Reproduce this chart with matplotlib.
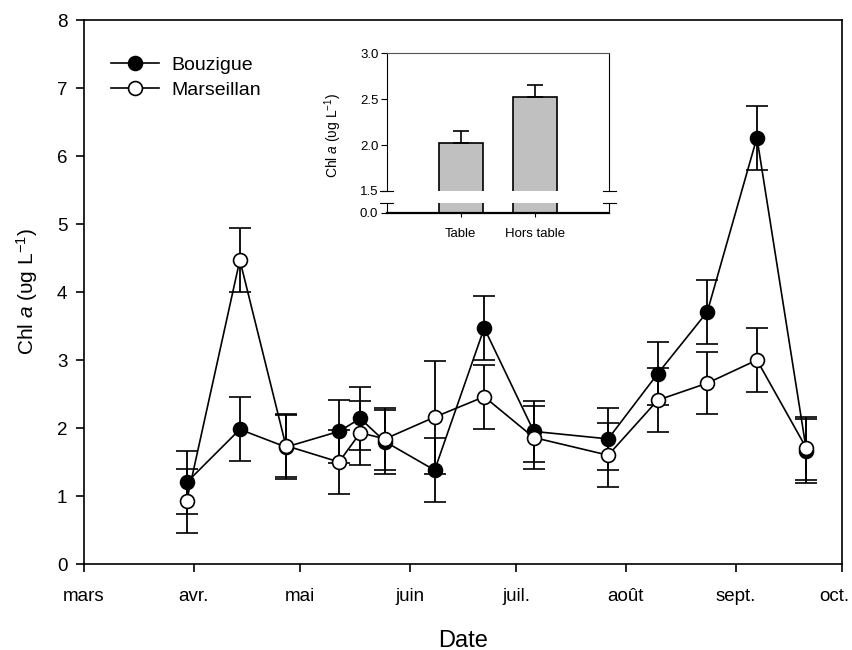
import matplotlib
matplotlib.use("Agg")
import matplotlib.pyplot as plt
import matplotlib.transforms as mtransforms
import pandas as pd

plt.rcParams['font.family'] = ['Liberation Sans', 'DejaVu Sans']
plt.rcParams['mathtext.fontset'] = 'custom'
plt.rcParams['mathtext.rm'] = 'Liberation Sans'
plt.rcParams['mathtext.it'] = 'Liberation Sans:italic'

# dates des prélèvements
dates = ['2013-03-30', '2013-04-14', '2013-04-27', '2013-05-12', '2013-05-18',
         '2013-05-25', '2013-06-08', '2013-06-22', '2013-07-06', '2013-07-27',
         '2013-08-10', '2013-08-24', '2013-09-07', '2013-09-21']

bouzigue = [1.20, 1.98, 1.72, 1.95, 2.14, 1.80, 1.38, 3.47, 1.95, 1.84, 2.80, 3.71, 6.27, 1.66]
bouzigue_err = [0.46, 0.47, 0.47, 0.46, 0.47, 0.47, 0.47, 0.47, 0.45, 0.46, 0.46, 0.47, 0.47, 0.47]
marseillan = [0.93, 4.47, 1.74, 1.50, 1.93, 1.84, 2.16, 2.46, 1.86, 1.60, 2.41, 2.66, 3.00, 1.70]
marseillan_err = [0.47, 0.47, 0.46, 0.47, 0.47, 0.46, 0.83, 0.47, 0.47, 0.47, 0.47, 0.46, 0.47, 0.46]

month_ticks = ['2013-03-01', '2013-04-01', '2013-05-01', '2013-06-01', '2013-07-01',
               '2013-08-01', '2013-09-01', '2013-10-01']
month_labels = ['mars', 'avr.', 'mai', 'juin', 'juil.', 'août', 'sept.', 'oct.']

# encart
bar_labels = ['Table', 'Hors table']
bar_values = [2.02, 2.52]
bar_err = [0.13, 0.13]

x = pd.to_datetime(dates)

fig = plt.figure(figsize=(8.53, 6.5), dpi=100)
ax = fig.add_axes([0.0985, 0.1323, 0.8885, 0.8369])

err_kw = dict(ecolor='black', elinewidth=1.3, capsize=8, capthick=1.3)
ax.errorbar(x, bouzigue, yerr=bouzigue_err, color='black', lw=1.2, marker='o', ms=10,
            mfc='black', mec='black', mew=1.2, label='Bouzigue', zorder=2, **err_kw)
ax.errorbar(x, marseillan, yerr=marseillan_err, color='black', lw=1.2, marker='o', ms=10,
            mfc='white', mec='black', mew=1.2, label='Marseillan', zorder=3, **err_kw)

ax.set_ylim(0, 8)
ax.set_xlim(pd.Timestamp(month_ticks[0]), pd.Timestamp(month_ticks[-1]))
ax.set_xticks(pd.to_datetime(month_ticks))
ax.set_xticklabels(month_labels)
ax.set_yticks(range(0, 9))
ax.tick_params(direction='out', length=6, width=1.2, labelsize=13.5)
ax.tick_params(axis='x', pad=11)
ax.tick_params(axis='y', pad=6)
for s in ax.spines.values():
    s.set_linewidth(1.2)

# décaler "oct." pour qu'il reste dans l'image
last = ax.get_xticklabels()[-1]
last.set_transform(last.get_transform() + mtransforms.ScaledTranslation(-8 / 100, 0, fig.dpi_scale_trans))

ax.set_xlabel('Date', fontsize=17, labelpad=18)
ax.set_ylabel('Chl $a$ (υg L$^{-1}$)', fontsize=15, labelpad=12)

handles, labels = ax.get_legend_handles_labels()
handles = [h[0] for h in handles]
ax.legend(handles, labels, loc='upper left', bbox_to_anchor=(0.012, 0.965), frameon=False,
          fontsize=14, handlelength=2.5, handletextpad=0.6, labelspacing=0.35)

# encart avec axe coupé
bx = [0, 1]
ax_top = fig.add_axes([0.4533, 0.7062, 0.261, 0.2118])
ax_bot = fig.add_axes([0.4533, 0.6728, 0.261, 0.0149])

ax_top.bar(bx, bar_values, width=0.6, color='#c0c0c0', edgecolor='black', lw=1.2)
ax_top.errorbar(bx, bar_values, yerr=[[0, 0], bar_err], fmt='none', ecolor='black',
                elinewidth=1.2, capsize=6, capthick=1.2)
ax_bot.bar(bx, bar_values, width=0.6, color='#c0c0c0', edgecolor='black', lw=1.2)

ax_top.set_xlim(-1, 2)
ax_bot.set_xlim(-1, 2)
ax_top.set_ylim(1.5, 3.0)
ax_bot.set_ylim(0, 0.105)

ax_top.set_yticks([1.5, 2.0, 2.5, 3.0])
ax_top.set_yticklabels(['1.5', '2.0', '2.5', '3.0'])
ax_top.set_xticks([])
ax_top.spines['bottom'].set_visible(False)
ax_top.spines['top'].set_color('#555555')
ax_top.spines['top'].set_linewidth(0.8)
for sp in ['left', 'right']:
    ax_top.spines[sp].set_linewidth(0.8)
ax_top.tick_params(direction='out', length=4, width=0.8, labelsize=9.5, pad=2)

ax_bot.set_yticks([0.0])
ax_bot.set_yticklabels(['0.0'])
ax_bot.set_xticks(bx)
ax_bot.set_xticklabels(bar_labels)
ax_bot.spines['top'].set_visible(False)
ax_bot.spines['bottom'].set_linewidth(1.6)
for sp in ['left', 'right']:
    ax_bot.spines[sp].set_linewidth(0.8)
ax_bot.tick_params(axis='y', direction='out', length=4, width=0.8, labelsize=9.5, pad=2)
ax_bot.tick_params(axis='x', direction='out', length=3, width=0.8, labelsize=9.5, pad=8)

# marques de coupure
for a, yv in [(ax_top, 1.5), (ax_bot, 0.105)]:
    a.plot([-0.03, 0.03], [yv, yv], transform=a.get_yaxis_transform(), color='black',
           lw=0.8, clip_on=False)
    a.plot([0.97, 1.03], [yv, yv], transform=a.get_yaxis_transform(), color='black',
           lw=0.8, clip_on=False)

ax_top.set_ylabel('Chl $a$ (υg L$^{-1}$)', fontsize=10, labelpad=6)
ax_top.yaxis.set_label_coords(-0.19, 0.4)

fig.savefig('out.png', dpi=100)
